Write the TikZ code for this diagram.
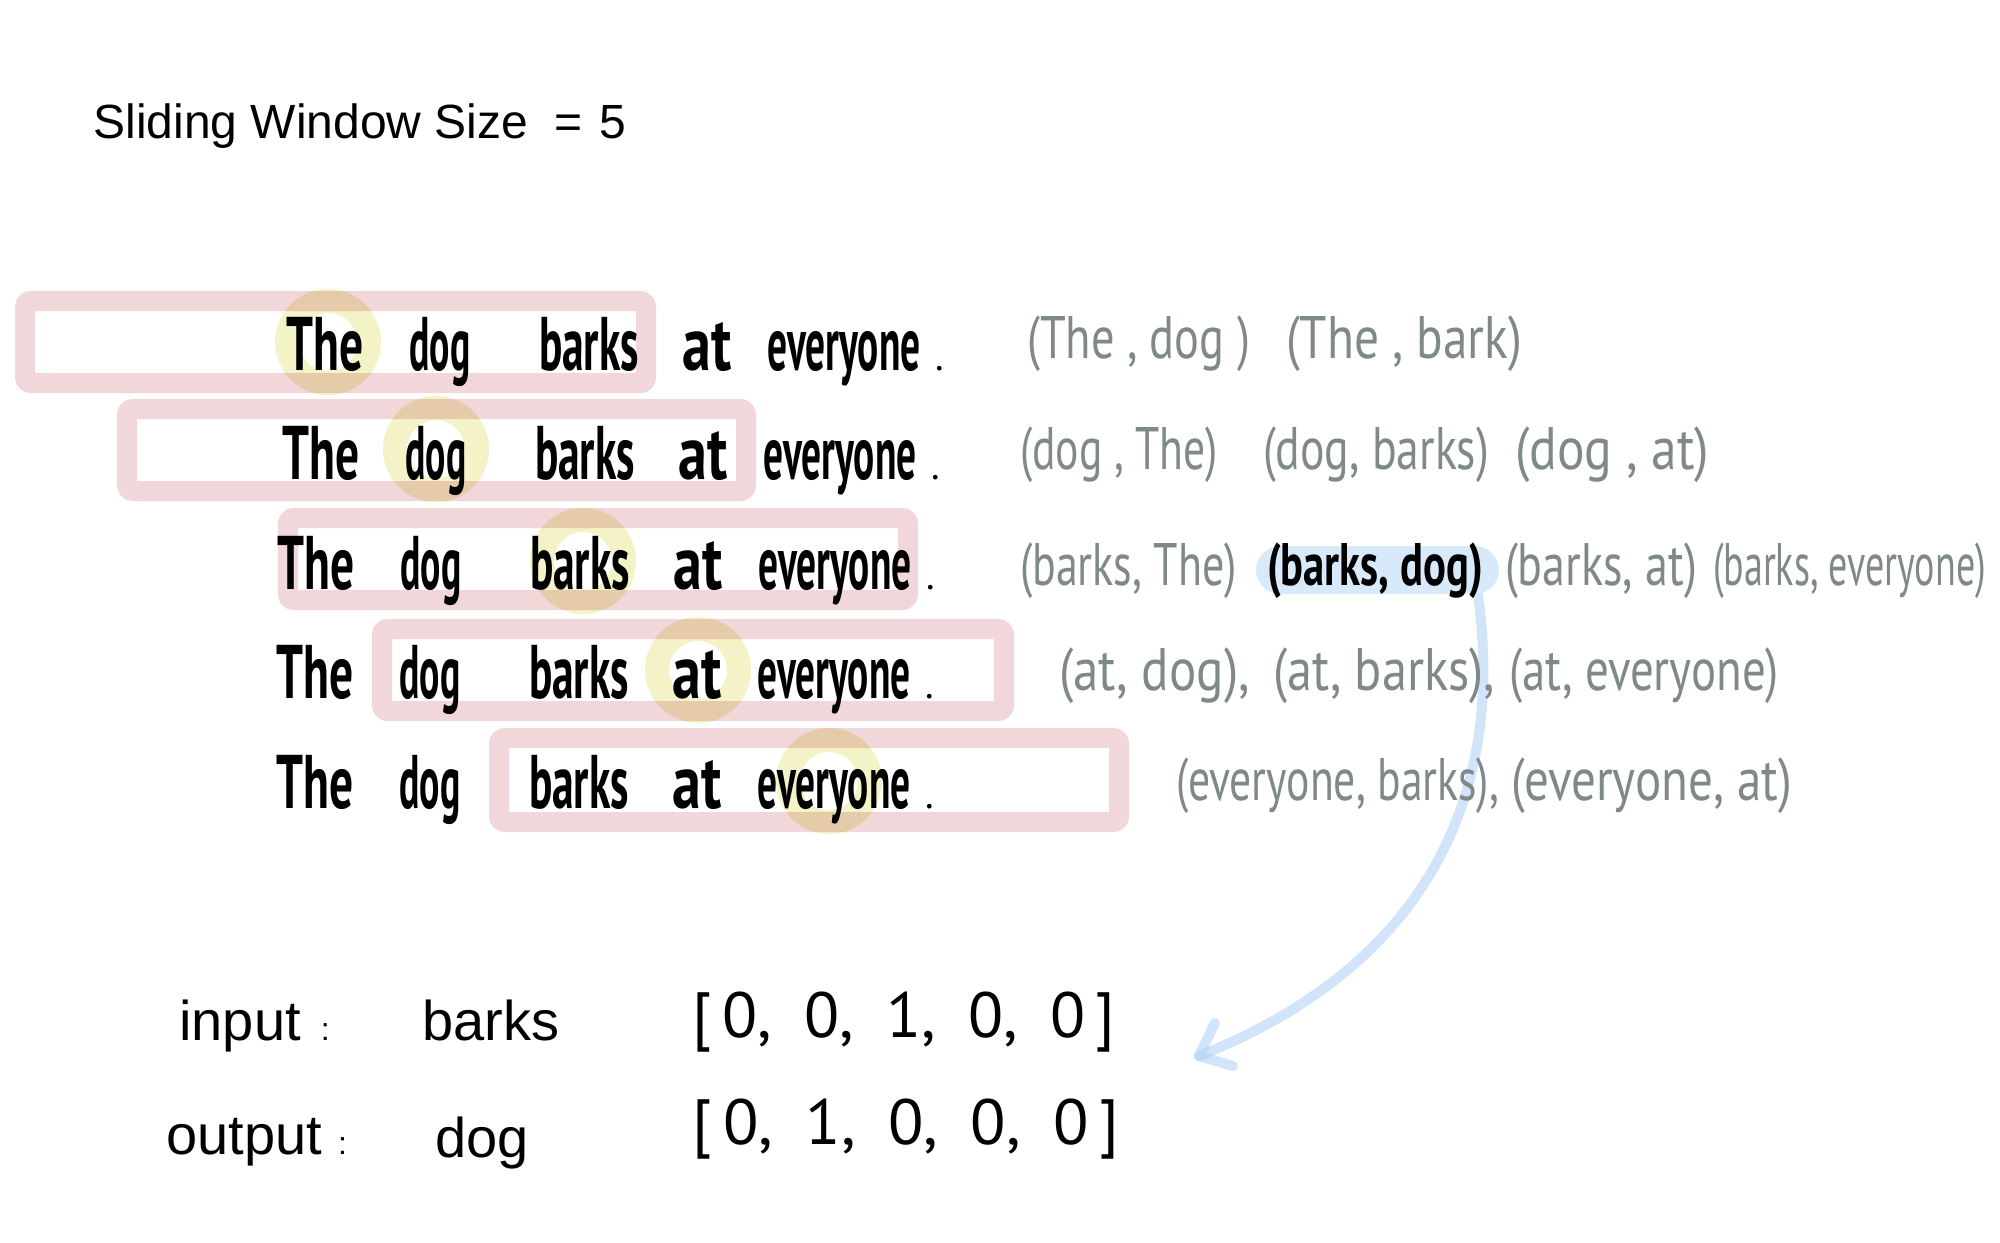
\documentclass[tikz,border=0pt]{standalone}
\usepackage{fontspec}
\setmainfont{Liberation Sans}
\newfontfamily\hand{PT Sans}
\usepackage{graphicx}
\usetikzlibrary{calc,backgrounds}
\definecolor{pinkc}{RGB}{241,214,218}
\definecolor{yellowc}{RGB}{243,243,199}
\definecolor{grayc}{RGB}{128,137,137}
\definecolor{hlblue}{RGB}{216,233,249}
\definecolor{arrowc}{RGB}{172,207,245}
\newcommand\fw[2]{\resizebox{#1pt}{\height}{#2}}
\tikzset{
  pinkbox/.style={draw=pinkc, line width=10pt, rounded corners=3pt},
  ring/.style={draw=yellowc, line width=12pt},
  word/.style={inner sep=0pt, anchor=base, font=\hand\bfseries\fontsize{38pt}{40pt}\selectfont},
  dotw/.style={inner sep=0pt, anchor=base, font=\hand\fontsize{20pt}{22pt}\selectfont},
  pair/.style={inner sep=0pt, text=grayc, font=\hand\fontsize{30pt}{32pt}\selectfont},
  hpair/.style={pair, text=black, font=\hand\bfseries\fontsize{30pt}{32pt}\selectfont},
  hl/.style={fill=hlblue, rounded corners=12pt, minimum width=121.5pt, minimum height=24pt, inner sep=0pt},
  vec/.style={inner sep=0pt, font=\hand\fontsize{32pt}{34pt}\selectfont},
  lbl/.style={inner sep=0pt, anchor=base west, font=\fontsize{28pt}{30pt}\selectfont},
  title/.style={inner sep=0pt, anchor=base west, font=\fontsize{24pt}{26pt}\selectfont},
  blarrow/.style={draw=arrowc, draw opacity=0.55, line width=5pt, line cap=round, line join=round}
}
\begin{document}
\begin{tikzpicture}[x=0.5pt,y=-0.5pt]
\useasboundingbox (0,0) rectangle (2000,1242);

% title
\node[title] (title) at (93,138) {Sliding Window Size\hspace{13pt}=\hspace{8.5pt}5};

% pink windows
\draw[pinkbox] (25,301) rectangle (646,383);
\draw[pinkbox] (127,409) rectangle (746,491);
\draw[pinkbox] (288,518) rectangle (908,600);
\draw[pinkbox] (382,629) rectangle (1004,711);
\draw[pinkbox] (499,738) rectangle (1119,822);

% yellow rings (centre word)
\begin{scope}[blend mode=multiply]
\foreach \cx/\cy in {328/342, 436/449, 583/561, 698/670, 829/781}
  \draw[ring] (\cx,\cy) circle[radius=41];
\end{scope}

% sentences
\foreach \r/\dx/\by in {1/9/370, 2/5/479, 3/0/589, 4/-1/698, 5/-1/808} {
  \node[word] (the\r) at (316+\dx,\by) {\fw{38.5}{The}};
  \node[word] (dog\r) at (431+\dx,\by) {\fw{30.5}{dog}};
  \node[word] (barks\r) at (580+\dx,\by) {\fw{50}{barks}};
  \node[word] (at\r) at (698+\dx,\by) {\fw{24.5}{at}};
  \node[word] (every\r) at (835+\dx,\by) {\fw{76.5}{everyone}};
  \node[dotw] (dot\r) at (931+\dx,\by) {.};
}

% highlight
\node[hl] (hl) at (1377.5,570) {};

% pairs
\node[pair] (p11) at (1138.5,344) {\fw{111.5}{(The , dog )}};
\node[pair] (p12) at (1404,344) {\fw{118}{(The , bark)}};
\node[pair] (p21) at (1119,455) {\fw{99}{(dog , The)}};
\node[pair] (p22) at (1376,455) {\fw{113}{(dog, barks)}};
\node[pair] (p23) at (1612,455) {\fw{97}{(dog , at)}};
\node[pair] (p31) at (1128.5,571) {\fw{108.5}{(barks, The)}};
\node[hpair] (p32) at (1375,571) {\fw{108}{(barks, dog)}};
\node[pair] (p33) at (1601,571) {\fw{96}{(barks, at)}};
\node[pair] (p34) at (1849.5,571) {\fw{136.5}{(barks, everyone)}};
\node[pair] (p41) at (1154.5,676) {\fw{95.5}{(at, dog),}};
\node[pair] (p42) at (1384,676) {\fw{111}{(at, barks),}};
\node[pair] (p43) at (1644,676) {\fw{135}{(at, everyone)}};
\node[pair] (p51) at (1337.5,786) {\fw{161.5}{(everyone, barks),}};
\node[pair] (p52) at (1651.5,786) {\fw{140.5}{(everyone, at)}};

% input / output
\node[lbl] (inlbl) at (179,1040) {input\hspace{10pt}{\fontsize{16pt}{16pt}\selectfont :}};
\node[lbl] (outlbl) at (166,1154) {output\hspace{8pt}{\fontsize{16pt}{16pt}\selectfont :}};
\node[lbl] (inw) at (422,1040) {barks};
\node[lbl] (outw) at (435,1157) {dog};
\node[vec] (v1) at (904,1022) {\fw{211.5}{[\,0,\enspace 0,\enspace 1,\enspace 0,\enspace 0\,]}};
\node[vec] (v2) at (906,1129) {\fw{213.5}{[\,0,\enspace 1,\enspace 0,\enspace 0,\enspace 0\,]}};

\coordinate (atip) at (1199,1056);

% blue arrow (behind the text)
\begin{pgfonlayer}{background}
\fill[white] (0,0) rectangle (2000,1242);
\draw[blarrow] ($(p32.south east)+(-6,-8)$) .. controls (1505,780) and (1440,960) .. (atip);
\draw[blarrow] (atip) -- ++(16,-33) (atip) -- ++(34,10);
\end{pgfonlayer}
\end{tikzpicture}
\end{document}
